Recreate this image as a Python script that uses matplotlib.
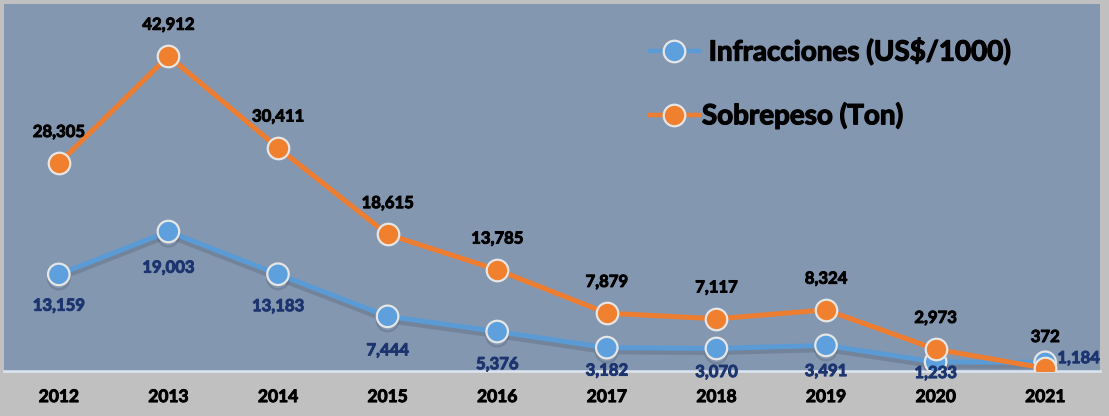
import matplotlib
matplotlib.use("Agg")
import matplotlib.pyplot as plt
import matplotlib.patheffects as pe
from matplotlib.lines import Line2D

years = ["2012", "2013", "2014", "2015", "2016", "2017", "2018", "2019", "2020", "2021"]
infracciones = [13159, 19003, 13183, 7444, 5376, 3182, 3070, 3491, 1233, 1184]
sobrepeso = [28305, 42912, 30411, 18615, 13785, 7879, 7117, 8324, 2973, 372]
label_inf = " Infracciones (US$/1000)"
label_sob = "Sobrepeso (Ton)"

plt.rcParams['font.family'] = ['Lato', 'DejaVu Sans']

fig = plt.figure(figsize=(11.09, 4.16), dpi=100, facecolor="#C0C0C0")
ax = fig.add_axes([4/1109, 45/416, 1096/1109, 367/416])
ax.set_facecolor("#8497B0")

x = list(range(len(years)))
blue = "#5B9BD5"
orange = "#ED7D31"
edge = "#E6E6E6"
navy = "#1C3570"


def heavy(color, w=0.7):
    return [pe.withStroke(linewidth=w, foreground=color)]


ax.plot(x, infracciones, color=blue, lw=3.6, marker="o", ms=15.5,
        mfc="#5EA0DD", mec=edge, mew=1.6, zorder=3,
        path_effects=[pe.SimpleLineShadow(offset=(0, -3), shadow_color="#404a5a", alpha=0.25), pe.Normal()])
ax.plot(x, sobrepeso, color=orange, lw=3.6, marker="o", ms=15.5,
        mfc="#F07F2E", mec=edge, mew=1.6, zorder=4)

# orange labels above
for xi, v in zip(x, sobrepeso):
    ax.annotate(f"{v:,}", (xi, v), xytext=(0, 22.5), textcoords="offset points",
                ha="center", va="center", fontsize=12, fontweight="bold", color="black", zorder=6,
                path_effects=heavy("black"))

# blue labels below (offsets in points)
blue_offsets = [(0, -22.5), (0, -26), (0, -23), (0, -24.5), (0, -23.5), (0, -16.5),
                (0, -17), (0, -18.5), (0, -8), (24, 3)]
for xi, v, off in zip(x, infracciones, blue_offsets):
    t = ax.annotate(f"{v:,}", (xi, v), xytext=off, textcoords="offset points",
                    ha="center", va="center", fontsize=12, fontweight="bold", color=navy,
                    zorder=7, annotation_clip=False, path_effects=heavy(navy))
    t.set_clip_on(False)

ax.set_xlim(-0.5, 9.5)
ax.set_ylim(0, 50000)
ax.set_xticks(x)
ax.set_xticklabels(years, fontsize=12.5, fontweight="bold", color="black")
for lbl in ax.get_xticklabels():
    lbl.set_path_effects(heavy("black"))
ax.tick_params(axis="x", length=0, pad=13)
ax.set_yticks([])
for s in ["top", "right", "left"]:
    ax.spines[s].set_visible(False)
ax.spines["bottom"].set_color("#DCE6F2")
ax.spines["bottom"].set_linewidth(1.8)

handles = [
    Line2D([], [], color=blue, lw=3.2, marker="o", ms=15.5, mfc="#5EA0DD", mec=edge, mew=1.6),
    Line2D([], [], color=orange, lw=3.2, marker="o", ms=15.5, mfc="#F07F2E", mec=edge, mew=1.6),
]
leg = ax.legend(handles, [label_inf, label_sob], loc="upper left",
                bbox_to_anchor=(650/1109, 1 - 37/416), bbox_transform=fig.transFigure,
                frameon=False, prop={"family": "Lato", "weight": "bold", "size": 20},
                labelspacing=1.3, handlelength=1.75, handletextpad=0.12, borderaxespad=0,
                borderpad=0)
for t in leg.get_texts():
    t.set_path_effects(heavy("black", 0.9))

fig.savefig("out.png", dpi=100, facecolor=fig.get_facecolor())
